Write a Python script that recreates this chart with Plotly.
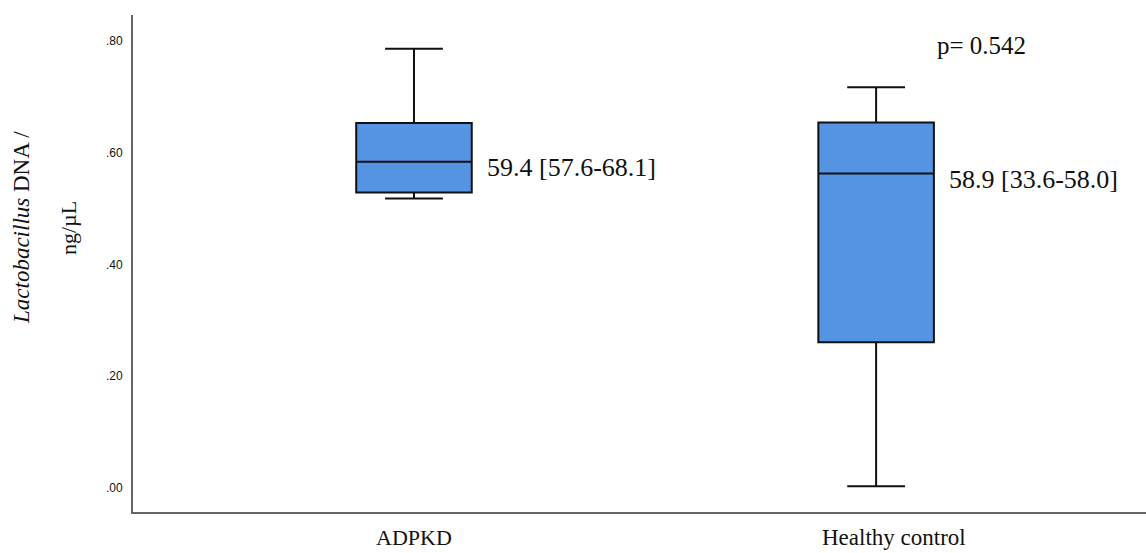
import plotly.graph_objects as go

# Group names and five-number summaries (Lactobacillus DNA, ng/µL)
groups = ["ADPKD", "Healthy control"]
lower_whisker = [0.518, 0.003]
q1 = [0.529, 0.261]
median = [0.584, 0.563]
q3 = [0.653, 0.654]
upper_whisker = [0.786, 0.717]
median_labels = ["59.4 [57.6-68.1]", "58.9 [33.6-58.0]"]
p_value_text = "p= 0.542"

y_tick_vals = [0.0, 0.2, 0.4, 0.6, 0.8]
y_tick_text = [".00", ".20", ".40", ".60", ".80"]
y_title_lines = ["<i>Lactobacillus</i> DNA /", "ng/µL"]

serif = "Liberation Serif, Times New Roman, serif"
sans = "Liberation Sans, Arial, sans-serif"

W, H = 1146, 553
M_L, M_R, M_T, M_B = 133, 0, 15, 41
plot_w = W - M_L - M_R
plot_h = H - M_T - M_B

fig = go.Figure()
fig.add_trace(go.Box(
    x=groups,
    q1=q1,
    median=median,
    q3=q3,
    lowerfence=lower_whisker,
    upperfence=upper_whisker,
    width=0.25,
    whiskerwidth=0.5,
    fillcolor="#5494e3",
    line=dict(color="#111111", width=2),
    showlegend=False,
    hoverinfo="skip",
))

# Median / IQR labels to the right of each box
for g, m, lab in zip(groups, median, median_labels):
    fig.add_annotation(
        x=g, y=m, text=lab, xref="x", yref="y",
        xshift=71, yshift=-6, xanchor="left", yanchor="middle",
        showarrow=False, font=dict(family=serif, size=26, color="#111111"),
    )

fig.add_annotation(
    x=groups[1], y=upper_whisker[1], text=p_value_text, xref="x", yref="y",
    xshift=59, yshift=42, xanchor="left", yanchor="middle",
    showarrow=False, font=dict(family=serif, size=25, color="#111111"),
)

# Category labels under the axis
for g, shift, size in [(groups[0], 0, 22), (groups[1], 18, 23)]:
    fig.add_annotation(
        x=g, y=0, xref="x", yref="paper", text=g,
        xshift=shift, yshift=-12, xanchor="center", yanchor="top",
        borderpad=0, showarrow=False,
        font=dict(family=serif, size=size, color="#111111"),
    )

# Two-line rotated y-axis title, lines set apart
for txt, px, size in [(y_title_lines[0], 21, 23), (y_title_lines[1], 68, 22)]:
    fig.add_annotation(
        x=(px - M_L) / plot_w, y=(H - M_B - 228) / plot_h,
        xref="paper", yref="paper", text=txt, textangle=-90, showarrow=False,
        font=dict(family=serif, size=size, color="#111111"),
        xanchor="center", yanchor="middle",
    )

fig.update_layout(
    width=W, height=H,
    margin=dict(l=M_L, r=M_R, t=M_T, b=M_B),
    paper_bgcolor="white", plot_bgcolor="white",
    xaxis=dict(
        type="category", range=[-0.608, 1.584],
        showline=True, linecolor="#666666", linewidth=2,
        ticks="", showgrid=False, zeroline=False, showticklabels=False,
    ),
    yaxis=dict(
        range=[-0.043, 0.8465],
        tickvals=y_tick_vals, ticktext=y_tick_text,
        showline=True, linecolor="#666666", linewidth=2,
        ticks="", showgrid=False, zeroline=False,
        tickfont=dict(family=sans, size=12, color="#111111"),
        ticklabelstandoff=6,
    ),
)

fig.write_html("out.html")
